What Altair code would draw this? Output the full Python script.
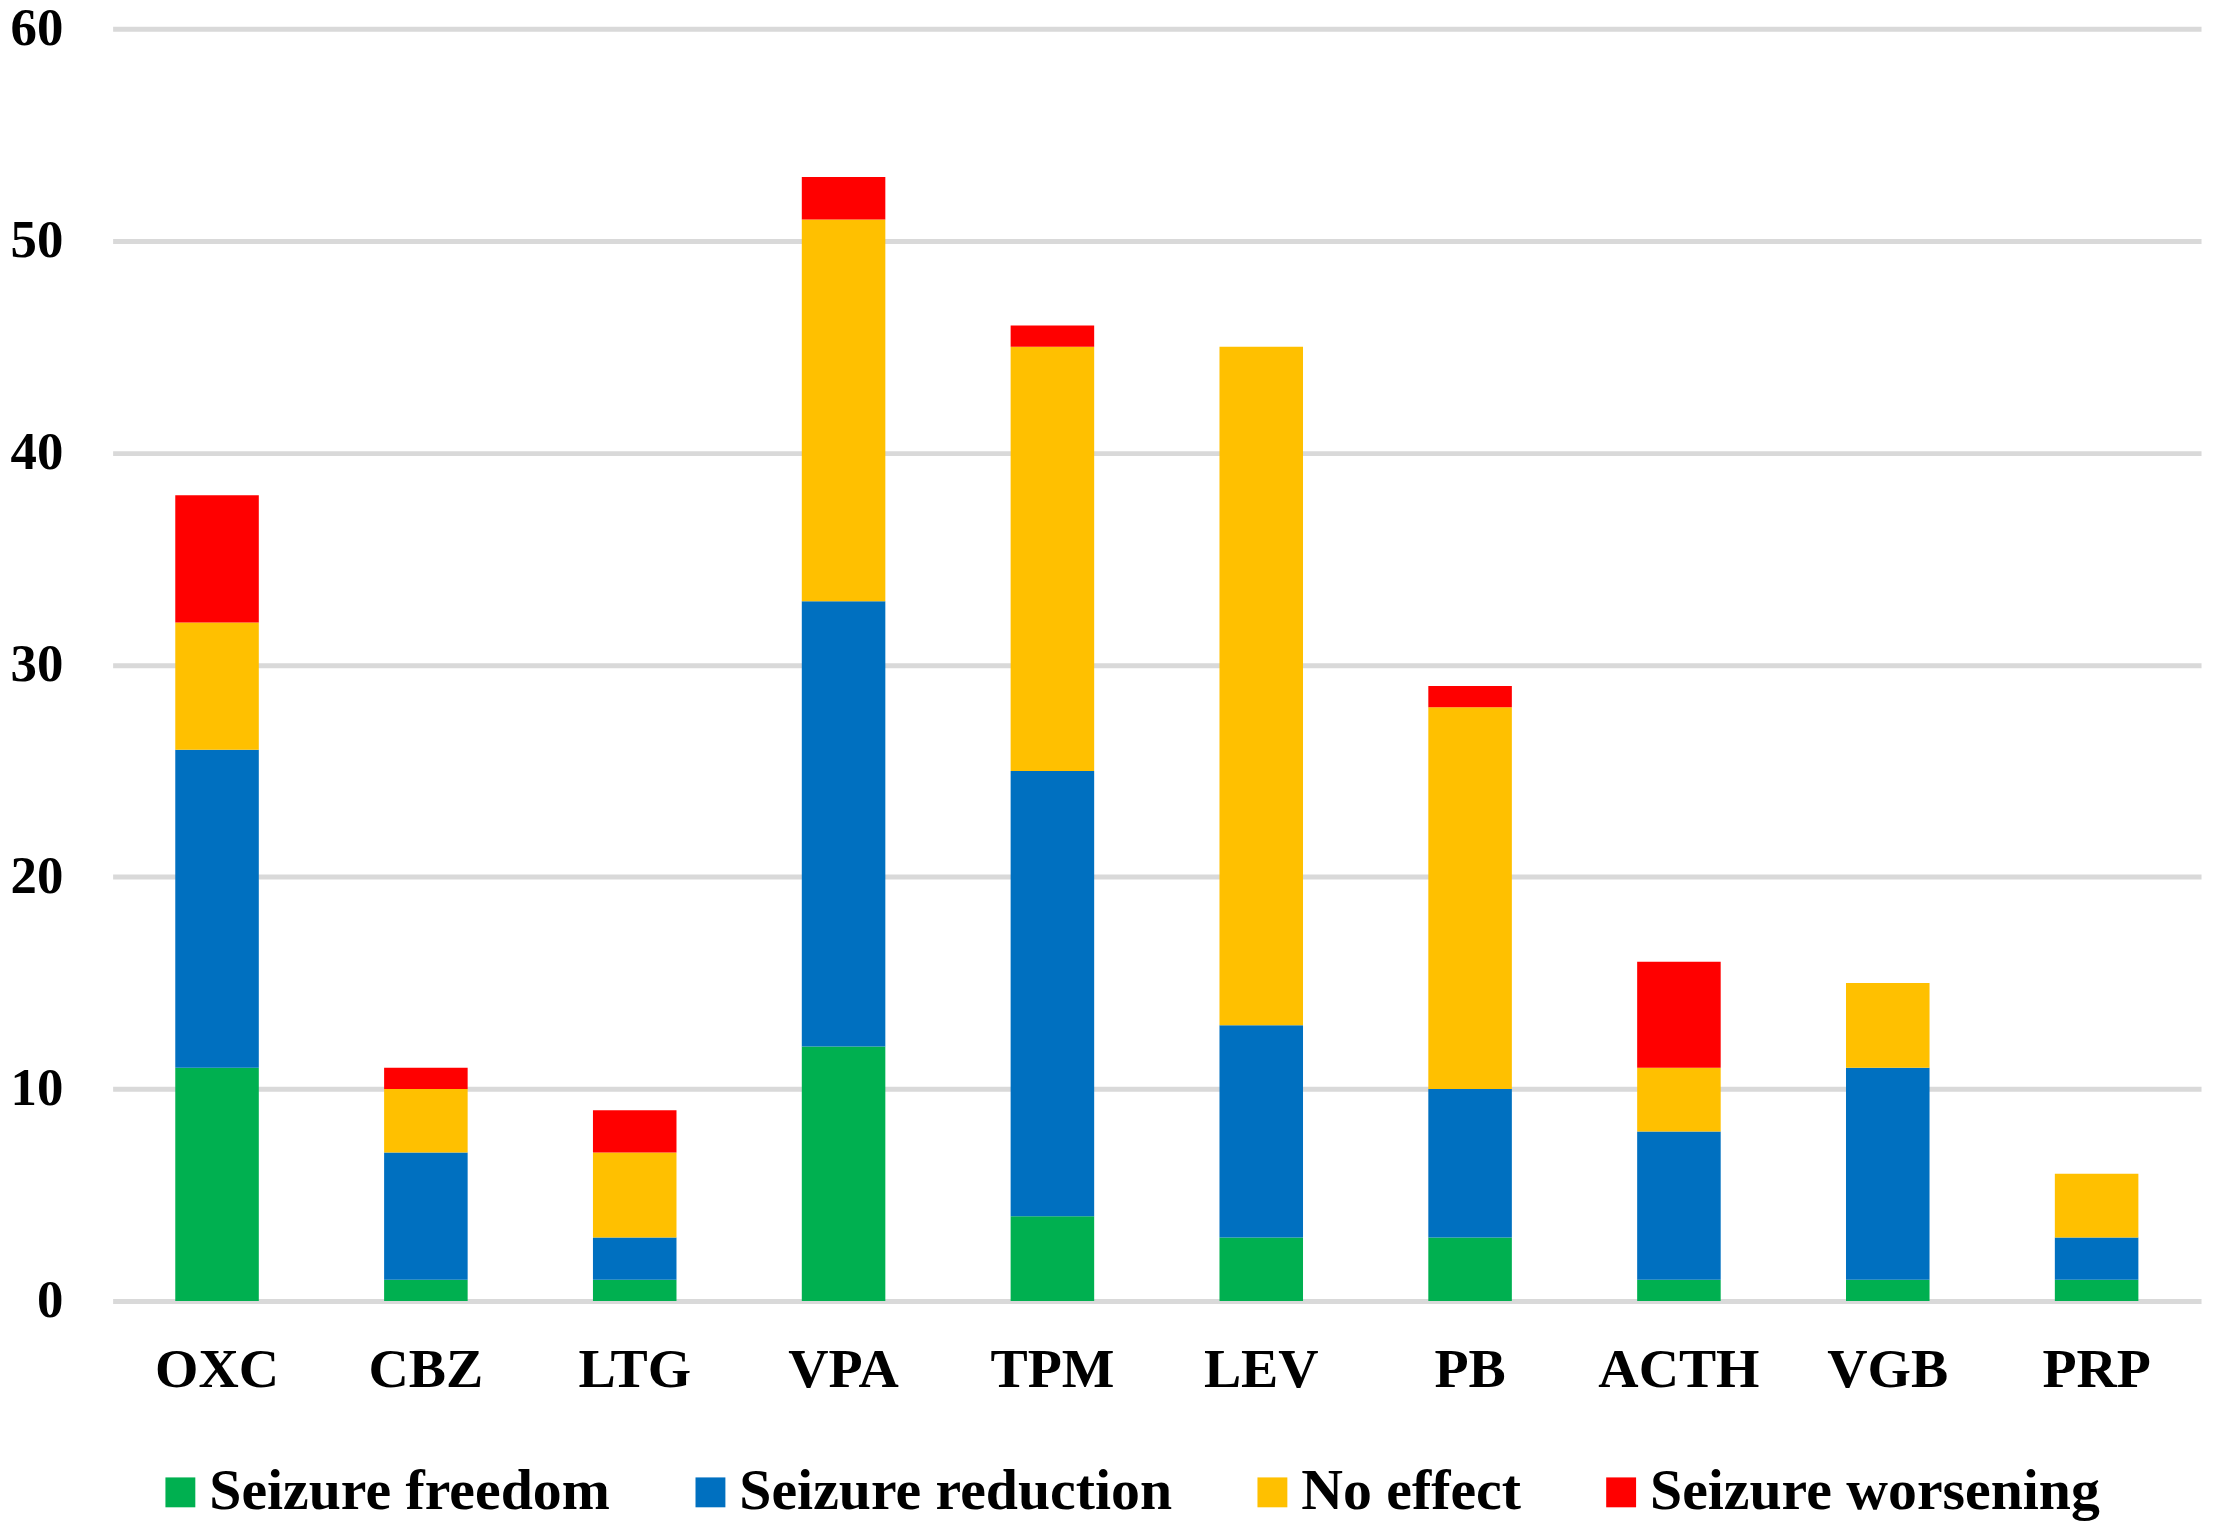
import altair as alt
import pandas as pd

drugs = ["OXC", "CBZ", "LTG", "VPA", "TPM", "LEV", "PB", "ACTH", "VGB", "PRP"]
outcomes = ["Seizure freedom", "Seizure reduction", "No effect", "Seizure worsening"]
colors = ["#00B050", "#0070C0", "#FFC000", "#FF0000"]

freedom   = [11, 1, 1, 12, 4, 3, 3, 1, 1, 1]
reduction = [15, 6, 2, 21, 21, 10, 7, 7, 10, 2]
no_effect = [6, 3, 4, 18, 20, 32, 18, 3, 4, 3]
worsening = [6, 1, 2, 2, 1, 0, 1, 5, 0, 0]

series = [freedom, reduction, no_effect, worsening]
rows = []
for k, (name, vals) in enumerate(zip(outcomes, series)):
    for d, v in zip(drugs, vals):
        rows.append({"drug": d, "outcome": name, "k": k, "value": v})
df = pd.DataFrame(rows)

FONT = "Liberation Serif"

chart = alt.Chart(df).mark_bar().encode(
    x=alt.X("drug:N", sort=drugs, title=None,
            scale=alt.Scale(paddingInner=0.6, paddingOuter=0.3),
            axis=alt.Axis(labelAngle=0, domain=False, ticks=False, labelPadding=42,
                          labelFont=FONT, labelFontSize=56, labelFontWeight="bold",
                          labelColor="#000000", labelBaseline="top")),
    y=alt.Y("value:Q", stack="zero", title=None,
            scale=alt.Scale(domain=[0, 60], nice=False),
            axis=alt.Axis(values=[0, 10, 20, 30, 40, 50, 60], domain=False, ticks=False,
                          labelPadding=50, labelFont=FONT, labelFontSize=53,
                          labelFontWeight="bold", labelColor="#000000",
                          gridColor="#D9D9D9", gridWidth=5)),
    color=alt.Color("outcome:N", sort=outcomes, title=None,
                    scale=alt.Scale(domain=outcomes, range=colors),
                    legend=alt.Legend(orient="none", direction="horizontal",
                                      legendX=39, legendY=1440, padding=0,
                                      symbolType="square", symbolSize=900,
                                      symbolStrokeWidth=0, labelOffset=0,
                                      columnPadding=71, labelFont=FONT,
                                      labelFontSize=58, labelFontWeight="bold",
                                      labelColor="#000000", labelLimit=0)),
    order=alt.Order("k:Q", sort="ascending"),
).properties(
    width=2096, height=1277,
    autosize=alt.AutoSizeParams(type="none"),
    padding={"left": 105, "top": 18, "right": 8, "bottom": 220},
).configure(background="#FFFFFF").configure_view(stroke=None, strokeWidth=0)

chart.save("out.html", embed_options={"renderer": "svg", "actions": False})
